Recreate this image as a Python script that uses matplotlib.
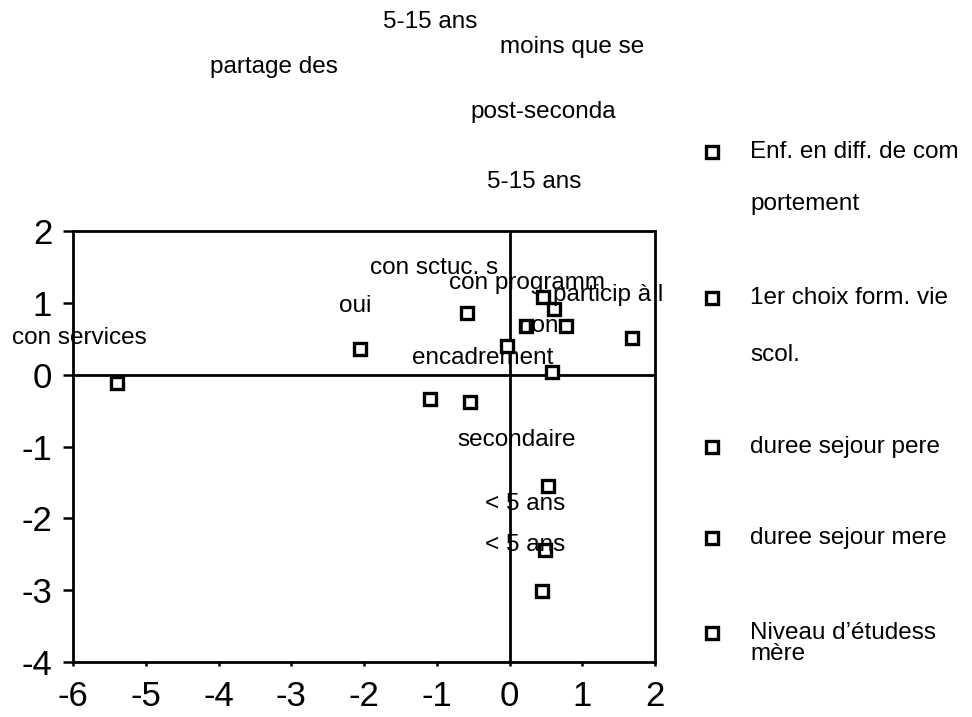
import matplotlib
matplotlib.use("Agg")
import matplotlib.pyplot as plt
from matplotlib.lines import Line2D

plt.rcParams['font.family'] = ['Liberation Sans', 'DejaVu Sans']
plt.rcParams['axes.unicode_minus'] = False

# category coordinates on the two factorial axes
pt_x = [-5.40, -2.05, -0.58, -1.09, -0.54, -0.03, 0.46, 0.23, 0.61, 0.78,
        1.68, 0.58, 0.53, 0.49, 0.45]
pt_y = [-0.12, 0.36, 0.86, -0.34, -0.38, 0.40, 1.08, 0.68, 0.91, 0.68,
        0.51, 0.04, -1.55, -2.44, -3.01]

# category labels and where their text sits
labels = ["5-15 ans", "moins que se", "partage des", "post-seconda", "5-15 ans",
          "con sctuc. s", "con programm", "particip à l", "oui", "non",
          "con services", "encadrement", "secondaire", "< 5 ans", "< 5 ans"]
label_x = [-1.74, -0.13, -4.12, -0.54, -0.31, -1.92, -0.83, 0.60, -2.34, 0.12,
           -6.84, -1.34, -0.72, -0.34, -0.34]
label_y = [4.91, 4.56, 4.28, 3.66, 2.68, 1.48, 1.28, 1.11, 0.96, 0.68,
           0.51, 0.23, -0.91, -1.80, -2.37]

# legend lines (wrapped as in the original layout)
legend_rows = [
    ("Enf. en diff. de com", True, 152),
    ("portement", False, 204),
    ("1er choix form. vie", True, 298),
    ("scol.", False, 355),
    ("duree sejour pere", True, 447),
    ("duree sejour mere", True, 538),
    ("Niveau d\u2019étudess", True, 633),
    ("mère", False, 654),
]

W, H = 972, 717
fig = plt.figure(figsize=(W / 100, H / 100), dpi=100)
ax = fig.add_axes([73 / W, 1 - 662 / H, 582 / W, 431 / H])

ax.set_xlim(-6, 2)
ax.set_ylim(-4, 2)
ax.set_xticks(range(-6, 3))
ax.set_yticks(range(-4, 3))
for s in ax.spines.values():
    s.set_linewidth(2.0)
    s.set_color("black")

ax.axhline(0, color="black", lw=2.0, zorder=1)
ax.axvline(0, color="black", lw=2.0, zorder=1)

ax.plot(pt_x, pt_y, ls="none", marker="s", ms=8.5, mfc="white", mec="black",
        mew=2.4, zorder=3, clip_on=False)

for t, x, y in zip(labels, label_x, label_y):
    ax.text(x, y, t, ha="left", va="center", fontsize=17.5, clip_on=False, zorder=4)

ax.tick_params(axis="y", direction="out", length=7, width=1.8, pad=8, labelsize=25)
ax.tick_params(axis="x", direction="out", length=3, width=1.8, pad=10, labelsize=25)

for text, has_marker, ypix in legend_rows:
    yf = 1 - ypix / H
    if has_marker:
        fig.add_artist(Line2D([712 / W], [yf], ls="none", marker="s", ms=8,
                              mfc="white", mec="black", mew=2.4,
                              transform=fig.transFigure))
    fig.text(750 / W, yf, text, ha="left", va="center", fontsize=17.5)

fig.savefig("out.png", dpi=100)
